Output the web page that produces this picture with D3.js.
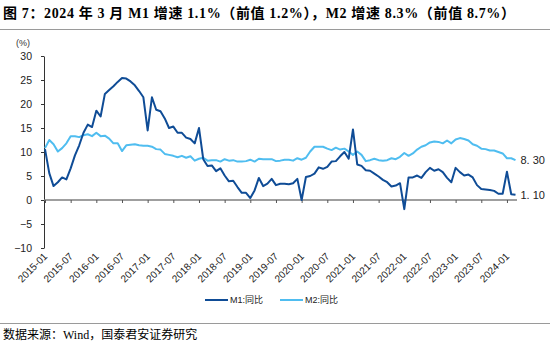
<!DOCTYPE html>
<html><head><meta charset="utf-8">
<script src="https://cdn.jsdelivr.net/npm/d3@7"></script>
<style>body{margin:0;background:#fff}svg{display:block}</style>
</head><body><svg id="c" width="550" height="347"></svg>
<script>
const titleText = "图 7：2024 年 3 月 M1 增速 1.1%（前值 1.2%），M2 增速 8.3%（前值 8.7%）";
const sourceText = "数据来源：Wind，国泰君安证券研究";
const unitLabel = "(%)";
const seriesNames = ["M1:同比", "M2:同比"];
const tickLabels = ["2015-01","2015-07","2016-01","2016-07","2017-01","2017-07","2018-01","2018-07","2019-01","2019-07","2020-01","2020-07","2021-01","2021-07","2022-01","2022-07","2023-01","2023-07","2024-01"];
const yTicks = [-10,-5,0,5,10,15,20,25,30];
const m1 = [10.6,5.6,2.9,3.7,4.7,4.3,6.6,9.3,11.4,14.0,15.7,15.2,
18.6,17.4,22.1,22.9,23.7,24.6,25.4,25.3,24.7,23.9,22.7,21.4,
14.5,21.4,18.8,18.5,17.0,15.0,15.3,14.0,14.0,13.0,12.7,11.8,
15.0,8.5,7.1,7.2,6.0,6.6,5.1,3.9,4.0,2.7,1.5,1.5,
0.4,2.0,4.6,2.9,3.4,4.4,3.1,3.4,3.4,3.3,3.5,4.4,
0.0,4.8,5.0,5.5,6.8,6.5,6.9,8.0,8.1,9.1,10.0,8.6,
14.7,7.4,7.1,6.2,6.1,5.5,4.9,4.2,3.7,2.8,3.0,3.5,
-1.9,4.7,4.7,5.1,4.6,5.8,6.7,6.1,6.4,5.8,4.6,3.7,
6.7,5.8,5.1,5.3,4.7,3.1,2.3,2.2,2.1,1.9,1.3,1.3,
5.9,1.2,1.1];
const m2 = [10.8,12.5,11.6,10.1,10.8,11.8,13.3,13.3,13.1,13.5,13.7,13.3,
14.0,13.3,13.4,12.8,11.8,11.8,10.2,11.4,11.5,11.6,11.4,11.3,
11.3,11.1,10.6,10.5,9.6,9.4,9.2,8.9,9.2,8.8,9.1,8.2,
8.6,8.8,8.2,8.3,8.3,8.0,8.5,8.2,8.3,8.0,8.0,8.1,
8.4,8.0,8.6,8.5,8.5,8.5,8.1,8.2,8.4,8.4,8.2,8.7,
8.4,8.8,10.1,11.1,11.1,11.1,10.7,10.4,10.9,10.5,10.7,10.1,
9.4,10.1,9.4,8.1,8.3,8.6,8.3,8.2,8.3,8.7,8.5,9.0,
9.8,9.2,9.7,10.5,11.1,11.4,12.0,12.2,12.1,11.8,12.4,11.8,
12.6,12.9,12.7,12.4,11.6,11.3,10.7,10.6,10.3,10.3,10.0,9.7,
8.7,8.7,8.3];
const colors = ["#0f4c96", "#4fbdf0"];

const fmt = d3.timeFormat("%Y-%m");
const months = d3.range(m1.length).map(i => fmt(d3.timeMonth.offset(new Date(2015, 0, 1), i)));

const svg = d3.select("#c");
const sans = "'Liberation Sans', Arial, 'Noto Sans CJK SC', sans-serif";
const serif = "'Liberation Serif', 'Times New Roman', 'Noto Sans CJK SC', serif";

const x = d3.scalePoint().domain(months).range([45, 515.5]);
const y = d3.scaleLinear().domain([-10, 30]).range([248, 56]);

// title
svg.append("text").attr("x", 3).attr("y", 18)
  .attr("font-family", serif).attr("font-weight", "bold").attr("font-size", 14)
  .attr("textLength", 512).attr("lengthAdjust", "spacing")
  .attr("fill", "#000").text(titleText);
svg.append("line").attr("x1", 0).attr("x2", 550).attr("y1", 29.5).attr("y2", 29.5)
  .attr("stroke", "#9a9a9a").attr("stroke-width", 1);

// y axis
const yAxis = svg.append("g").attr("transform", "translate(44,0)")
  .call(d3.axisLeft(y).tickValues(yTicks).tickSize(3).tickPadding(9).tickSizeOuter(0));
yAxis.select(".domain").attr("stroke", "#333");
yAxis.selectAll(".tick line").attr("stroke", "#333");
yAxis.selectAll("text").attr("font-family", sans).attr("font-size", 10.5).attr("fill", "#222");

svg.append("text").attr("x", 23).attr("y", 46).attr("text-anchor", "middle")
  .attr("font-family", sans).attr("font-size", 9).attr("fill", "#333").text(unitLabel);

// zero axis with ticks
const xAxis = svg.append("g").attr("transform", `translate(0,${y(0)})`)
  .call(d3.axisBottom(x).tickValues(tickLabels).tickSize(3).tickFormat("").tickSizeOuter(0));
xAxis.select(".domain").attr("stroke", "#7f7f7f").attr("stroke-width", 1.3)
  .attr("d", `M44,0H517`);
xAxis.selectAll(".tick line").attr("stroke", "#555");

// rotated x labels
svg.append("g").selectAll("text").data(tickLabels).join("text")
  .attr("transform", d => `translate(${x(d) + 3},${257}) rotate(-45)`)
  .attr("text-anchor", "end")
  .attr("font-family", sans).attr("font-size", 10).attr("fill", "#222")
  .text(d => d);

// lines
const series = [m1, m2];
const line = d3.line().x((d, i) => x(months[i])).y(d => y(d));
svg.append("g").selectAll("path").data(series.slice().reverse()).join("path")
  .attr("d", d => line(d)).attr("fill", "none")
  .attr("stroke", (d, i) => colors[1 - i]).attr("stroke-width", 2)
  .attr("stroke-linejoin", "round");

// end labels
series.forEach((s, k) => {
  const v = s[s.length - 1];
  const parts = v.toFixed(2).split(".");
  const t = svg.append("text").attr("x", x(months[months.length - 1]) + 5).attr("y", y(v))
    .attr("dy", "0.35em").attr("font-family", sans).attr("font-size", 11).attr("fill", "#222");
  t.append("tspan").text(parts[0] + ".");
  t.append("tspan").attr("dx", 3).text(parts[1]);
});

// legend
const legend = svg.append("g");
seriesNames.forEach((n, i) => {
  const lx = 205 + i * 75;
  legend.append("line").attr("x1", lx).attr("x2", lx + 23).attr("y1", 300).attr("y2", 300)
    .attr("stroke", colors[i]).attr("stroke-width", 2);
  legend.append("text").attr("x", lx + 25).attr("y", 300).attr("dy", "0.35em")
    .attr("font-family", sans).attr("font-size", 9).attr("fill", "#222").text(n);
});

// source
svg.append("line").attr("x1", 0).attr("x2", 550).attr("y1", 323.5).attr("y2", 323.5)
  .attr("stroke", "#9a9a9a").attr("stroke-width", 1);
svg.append("text").attr("x", 3).attr("y", 339)
  .attr("font-family", serif).attr("font-size", 12).attr("fill", "#000").text(sourceText);
</script></body></html>
